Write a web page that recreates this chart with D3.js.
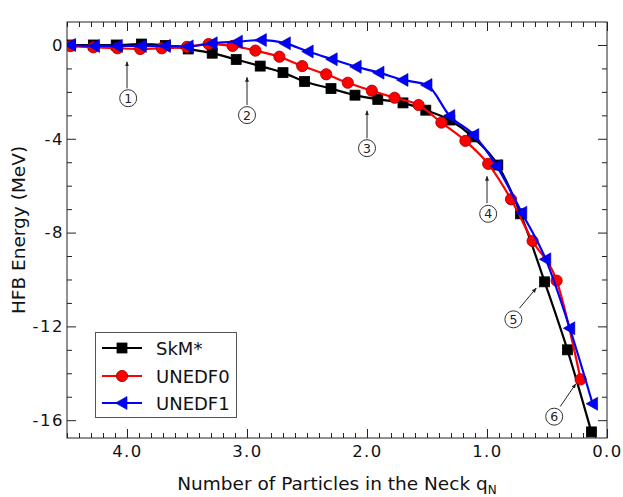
<!DOCTYPE html>
<html>
<head>
<meta charset="utf-8">
<script src="https://cdn.jsdelivr.net/npm/d3@7"></script>
<style>
  html, body { margin: 0; padding: 0; background: #fff; }
  svg { display: block; font-family: "DejaVu Sans", sans-serif; }
</style>
</head>
<body>
<svg id="chart" width="623" height="497"></svg>
<script>
// HFB energy versus number of particles in the neck, three functionals
const skmQ = [4.47, 4.28, 4.09, 3.88, 3.68, 3.49, 3.29, 3.09, 2.89, 2.70, 2.52, 2.30, 2.10, 1.91, 1.70, 1.51, 1.31, 1.12, 0.91, 0.72, 0.52, 0.33, 0.13];
const skmE = [0.0, 0.0, 0.0, 0.04, -0.02, -0.17, -0.35, -0.62, -0.90, -1.18, -1.56, -1.86, -2.14, -2.32, -2.47, -2.78, -3.20, -3.92, -5.12, -7.20, -10.10, -13.00, -16.50];

const un0Q = [4.47, 4.28, 4.08, 3.89, 3.71, 3.50, 3.32, 3.12, 2.93, 2.73, 2.54, 2.34, 2.16, 1.96, 1.77, 1.57, 1.38, 1.18, 0.99, 0.80, 0.62, 0.42, 0.22];
const un0E = [-0.05, -0.10, -0.14, -0.17, -0.14, -0.08, 0.04, -0.04, -0.24, -0.50, -0.90, -1.25, -1.61, -1.95, -2.25, -2.56, -3.31, -4.09, -5.07, -6.58, -8.36, -10.05, -14.26];

const un1Q = [4.47, 4.27, 4.08, 3.88, 3.68, 3.49, 3.29, 3.08, 2.88, 2.68, 2.49, 2.29, 2.09, 1.90, 1.70, 1.50, 1.31, 1.11, 0.92, 0.71, 0.51, 0.31, 0.12];
const un1E = [0.0, -0.04, -0.04, -0.04, -0.04, -0.06, 0.07, 0.14, 0.21, 0.07, -0.28, -0.61, -0.93, -1.18, -1.49, -1.71, -3.03, -3.84, -5.16, -7.15, -9.14, -12.08, -15.30];

const seriesNames = ["SkM*", "UNEDF0", "UNEDF1"];
const seriesColors = ["#000000", "#ff0000", "#0000ff"];

const xTicks = [4.0, 3.0, 2.0, 1.0, 0.0];
const yTicks = [0, -4, -8, -12, -16];

// numbered stages: arrow tip, arrow tail and circled label positions in data units
const markNums = ["1", "2", "3", "4", "5", "6"];
const arrowTipQ = [4.0, 3.0, 2.0, 1.0, 0.59, 0.26];
const arrowTipE = [-0.72, -1.38, -2.81, -5.6, -10.37, -14.45];
const arrowTailQ = [4.0, 3.0, 2.0, 1.0, 0.73, 0.39];
const arrowTailE = [-1.85, -2.56, -3.98, -6.75, -11.23, -15.42];
const labelQ = [3.99, 3.0, 2.0, 0.99, 0.78, 0.44];
const labelE = [-2.27, -2.99, -4.4, -7.2, -11.7, -15.85];

const svg = d3.select("#chart");
const L = 67, R = 607, T = 22, B = 438;

const x = d3.scaleLinear().domain([4.5, 0.0]).range([L, R]);
const y = d3.scaleLinear().domain([-16.76, 0.98]).range([B, T]);

const defs = svg.append("defs");
defs.append("clipPath").attr("id", "plotclip")
  .append("rect").attr("x", L).attr("y", T).attr("width", R - L).attr("height", B - T);
defs.append("marker").attr("id", "arrowhead")
  .attr("viewBox", "0 0 10 10").attr("refX", 9).attr("refY", 5)
  .attr("markerWidth", 5).attr("markerHeight", 5).attr("orient", "auto")
  .append("path").attr("d", "M0,1 L10,5 L0,9 Z").attr("fill", "#222");

// axes with inward ticks on all four sides
const minorX = d3.range(0, 46).map(i => i / 10).filter(v => Math.abs(v * 10 - Math.round(v) * 10) > 1e-6);
const minorY = d3.range(-16, 1).filter(v => v % 4 !== 0);
const fmtX = d3.format(".1f");

function styleAxis(g) {
  g.select(".domain").remove();
  g.selectAll("line").attr("stroke", "#222").attr("stroke-width", 1);
  g.selectAll("text").attr("fill", "#111").attr("font-size", 16.5)
    .attr("letter-spacing", 1.5).attr("font-family", "DejaVu Sans, sans-serif");
}

svg.append("g").attr("transform", `translate(0,${B})`)
  .call(d3.axisBottom(x).tickValues(xTicks).tickFormat(fmtX).tickSizeInner(-9).tickSizeOuter(0).tickPadding(7))
  .call(styleAxis);
svg.append("g").attr("transform", `translate(0,${B})`)
  .call(d3.axisBottom(x).tickValues(minorX).tickFormat("").tickSizeInner(-5).tickSizeOuter(0))
  .call(styleAxis);
svg.append("g").attr("transform", `translate(0,${T})`)
  .call(d3.axisTop(x).tickValues(xTicks).tickFormat("").tickSizeInner(-9).tickSizeOuter(0))
  .call(styleAxis);
svg.append("g").attr("transform", `translate(0,${T})`)
  .call(d3.axisTop(x).tickValues(minorX).tickFormat("").tickSizeInner(-5).tickSizeOuter(0))
  .call(styleAxis);

svg.append("g").attr("transform", `translate(${L},0)`)
  .call(d3.axisLeft(y).tickValues(yTicks).tickFormat(d => d === 0 ? "0" : "-" + Math.abs(d)).tickSizeInner(-9).tickSizeOuter(0).tickPadding(3))
  .call(styleAxis);
svg.append("g").attr("transform", `translate(${L},0)`)
  .call(d3.axisLeft(y).tickValues(minorY).tickFormat("").tickSizeInner(-5).tickSizeOuter(0))
  .call(styleAxis);
svg.append("g").attr("transform", `translate(${R},0)`)
  .call(d3.axisRight(y).tickValues(yTicks).tickFormat("").tickSizeInner(-9).tickSizeOuter(0))
  .call(styleAxis);
svg.append("g").attr("transform", `translate(${R},0)`)
  .call(d3.axisRight(y).tickValues(minorY).tickFormat("").tickSizeInner(-5).tickSizeOuter(0))
  .call(styleAxis);

// frame
svg.append("rect").attr("x", L).attr("y", T).attr("width", R - L).attr("height", B - T)
  .attr("fill", "none").attr("stroke", "#222").attr("stroke-width", 1);

// axis titles
const xt = svg.append("text").attr("x", (L + R) / 2).attr("y", 490)
  .attr("text-anchor", "middle").attr("font-size", 18.5).attr("fill", "#111");
xt.append("tspan").text("Number of Particles in the Neck q");
xt.append("tspan").attr("font-size", 12).attr("dy", 4).text("N");

svg.append("text").attr("transform", "translate(25,230) rotate(-90)")
  .attr("text-anchor", "middle").attr("font-size", 18.5).attr("fill", "#111")
  .text("HFB Energy (MeV)");

// data series
const series = [
  { q: skmQ, e: skmE, color: seriesColors[0], shape: "square" },
  { q: un0Q, e: un0E, color: seriesColors[1], shape: "circle" },
  { q: un1Q, e: un1E, color: seriesColors[2], shape: "triangle" }
];

const line = d3.line().x(d => x(d[0])).y(d => y(d[1])).curve(d3.curveMonotoneX);
const plot = svg.append("g").attr("clip-path", "url(#plotclip)");

function drawMarker(g, shape, color, cx, cy) {
  if (shape === "square") {
    g.append("rect").attr("x", cx - 5).attr("y", cy - 5).attr("width", 10).attr("height", 10)
      .attr("fill", color).attr("stroke", color).attr("stroke-width", 0.8);
  } else if (shape === "circle") {
    g.append("circle").attr("cx", cx).attr("cy", cy).attr("r", 5.6)
      .attr("fill", color).attr("stroke", "#a80000").attr("stroke-width", 0.9);
  } else {
    g.append("path").attr("d", `M${cx - 6.5},${cy} L${cx + 5},${cy - 6.5} L${cx + 5},${cy + 6.5} Z`)
      .attr("fill", color).attr("stroke", "#0000a0").attr("stroke-width", 0.6);
  }
}

series.forEach(s => {
  const pts = s.q.map((q, i) => [q, s.e[i]]).sort((a, b) => b[0] - a[0]);
  const g = plot.append("g");
  g.append("path").datum(pts).attr("d", line)
    .attr("fill", "none").attr("stroke", s.color).attr("stroke-width", 2.2);
  pts.forEach(p => drawMarker(g, s.shape, s.color, x(p[0]), y(p[1])));
});

// numbered annotations with arrows
markNums.forEach((n, i) => {
  svg.append("line")
    .attr("x1", x(arrowTailQ[i])).attr("y1", y(arrowTailE[i]))
    .attr("x2", x(arrowTipQ[i])).attr("y2", y(arrowTipE[i]))
    .attr("stroke", "#222").attr("stroke-width", 1).attr("marker-end", "url(#arrowhead)");
  svg.append("circle").attr("cx", x(labelQ[i])).attr("cy", y(labelE[i])).attr("r", 8.5)
    .attr("fill", "#fff").attr("stroke", "#333").attr("stroke-width", 1);
  svg.append("text").attr("x", x(labelQ[i])).attr("y", y(labelE[i]) + 4.5)
    .attr("text-anchor", "middle").attr("font-size", 12.5).attr("fill", "#222").text(n);
});

// legend
const lg = svg.append("g");
lg.append("rect").attr("x", 95.5).attr("y", 332.5).attr("width", 141).attr("height", 85)
  .attr("fill", "#fff").attr("stroke", "#555").attr("stroke-width", 1);
const legendY = [348, 376, 403];
series.forEach((s, i) => {
  lg.append("line").attr("x1", 102).attr("x2", 142).attr("y1", legendY[i]).attr("y2", legendY[i])
    .attr("stroke", s.color).attr("stroke-width", 2.2);
  drawMarker(lg, s.shape, s.color, 122, legendY[i]);
  lg.append("text").attr("x", 156).attr("y", legendY[i] + 6.5)
    .attr("font-size", 18).attr("fill", "#111").text(seriesNames[i]);
});
</script>
</body>
</html>
